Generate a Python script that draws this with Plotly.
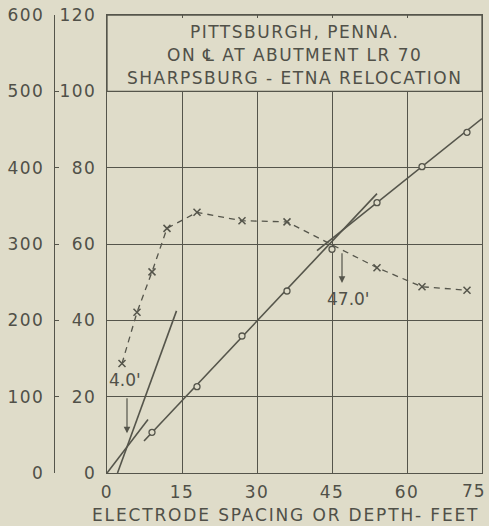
import plotly.graph_objects as go

# Apparent resistivity, read on the inner (0-120) scale
spacing_rho = [3, 6, 9, 12, 18, 27, 36, 54, 63, 72]
resistivity = [28.7, 42.1, 52.7, 64.1, 68.3, 66.1, 65.8, 53.8, 48.8, 47.9]

# Cumulative resistivity, read on the outer (0-600) scale
spacing_cum = [9, 18, 27, 36, 45, 54, 63, 72]
cumulative = [53.3, 113.1, 179.5, 238.4, 293.1, 354.1, 401.3, 446.3]

# Straight-line fits; their crossings mark the layer depths
fit_near_x, fit_near_y = [0, 8.2], [0, 70.0]
fit_steep_x, fit_steep_y = [2.1, 13.9], [0, 212.4]
fit_mid_x, fit_mid_y = [7.4, 54.0], [42.0, 366.0]
fit_deep_x, fit_deep_y = [42.0, 75.0], [291.2, 464.4]

# Layer depths picked from the crossings (feet)
break_depths = [4.0, 47.0]
break_labels = ["4.0'", "47.0'"]

x_ticks = [0, 15, 30, 45, 60, 75]
inner_ticks = [0, 20, 40, 60, 80, 100, 120]
outer_ticks = [0, 100, 200, 300, 400, 500, 600]
title_lines = ["PITTSBURGH, PENNA.", "ON \u2104 AT ABUTMENT LR 70",
               "SHARPSBURG - ETNA RELOCATION"]
x_title = "ELECTRODE SPACING OR DEPTH- FEET"

W, H = 489, 526
ML, MR, MT, MB = 0, 7, 15, 53
PW = W - ML - MR
PH = H - MT - MB
BG = "#dfdcc9"
INK = "#55554b"
TXT = "#505048"
FONT = "DejaVu Sans"
FS = 17


def spaced(s, sp=1.5):
    return f'<span style="letter-spacing:{sp}px">{s}</span>'


fig = go.Figure()

line_style = dict(color=INK, width=1.6)
for fx, fy in [(fit_near_x, fit_near_y), (fit_steep_x, fit_steep_y),
               (fit_mid_x, fit_mid_y), (fit_deep_x, fit_deep_y)]:
    fig.add_trace(go.Scatter(x=fx, y=fy, yaxis="y2", mode="lines",
                             line=line_style, hoverinfo="skip"))

fig.add_trace(go.Scatter(
    x=spacing_rho, y=resistivity, yaxis="y", mode="lines+markers",
    line=dict(color=INK, width=1.3, dash="6px,5px"),
    marker=dict(symbol="x-thin", size=7, line=dict(color=INK, width=1.5)),
))

fig.add_trace(go.Scatter(
    x=spacing_cum, y=cumulative, yaxis="y2", mode="markers",
    marker=dict(symbol="circle", size=6, color=BG, line=dict(color=INK, width=1.3)),
))

# Title block across the top band of the grid
fig.add_shape(type="rect", xref="x", yref="y", x0=0, x1=75, y0=100, y1=120,
              fillcolor=BG, line=dict(color=INK, width=1.3), layer="between")

title_y = [115.5, 109.4, 103.5]
for txt, ty in zip(title_lines, title_y):
    fig.add_annotation(x=37.5, y=ty, xref="x", yref="y", text=spaced(txt),
                       showarrow=False, font=dict(size=FS, color=TXT),
                       xanchor="center", yanchor="middle")

# Depth arrows
fig.add_annotation(x=break_depths[0], y=10.4, ax=break_depths[0], ay=20.0,
                   xref="x", yref="y", axref="x", ayref="y", text="",
                   showarrow=True, arrowhead=2, arrowsize=1.1, arrowwidth=1.2,
                   arrowcolor=INK)
fig.add_annotation(x=3.6, y=24.3, xref="x", yref="y", text=break_labels[0],
                   showarrow=False, font=dict(size=FS, color=TXT))
fig.add_annotation(x=break_depths[1], y=49.8, ax=break_depths[1], ay=58.0,
                   xref="x", yref="y", axref="x", ayref="y", text="",
                   showarrow=True, arrowhead=2, arrowsize=1.1, arrowwidth=1.2,
                   arrowcolor=INK)
fig.add_annotation(x=48.2, y=45.6, xref="x", yref="y", text=break_labels[1],
                   showarrow=False, font=dict(size=FS, color=TXT))

# The last x label sits at the page edge, so it is right-aligned inside it
fig.add_annotation(x=486 / PW, y=(473 - 491) / PH, xref="paper", yref="paper",
                   text=spaced(str(x_ticks[-1]), 1.0), showarrow=False,
                   borderpad=0, borderwidth=0,
                   font=dict(size=FS, color=TXT), xanchor="right", yanchor="middle")

fig.add_annotation(x=285 / PW, y=(473 - 515) / PH, xref="paper", yref="paper",
                   text=spaced(x_title, 1.85), showarrow=False,
                   font=dict(size=FS, color=TXT), xanchor="center", yanchor="middle")

fig.update_layout(
    width=W, height=H,
    margin=dict(l=ML, r=MR, t=MT, b=MB, pad=0, autoexpand=False),
    paper_bgcolor=BG, plot_bgcolor=BG,
    showlegend=False,
    font=dict(family=FONT, size=FS, color=TXT),
    xaxis=dict(domain=[107 / PW, 1], range=[0, 75], tickvals=x_ticks,
               ticktext=[spaced(str(v)) if v != x_ticks[-1] else "" for v in x_ticks],
               showgrid=True, gridcolor=INK, gridwidth=1.2,
               showline=True, linecolor=INK, linewidth=1.3, mirror="ticks",
               ticks="inside", ticklen=3, tickcolor=INK,
               zeroline=False, ticklabelstandoff=3,
               automargin=False, fixedrange=True),
    yaxis=dict(range=[0, 120], tickvals=inner_ticks,
               ticktext=[spaced(str(v)) for v in inner_ticks],
               showgrid=True, gridcolor=INK, gridwidth=1.2,
               showline=True, linecolor=INK, linewidth=1.3, mirror=True,
               ticks="", zeroline=False, ticklabelstandoff=6,
               automargin=False, fixedrange=True),
    yaxis2=dict(range=[0, 600], overlaying="y", anchor="free", side="left",
                position=54 / PW, tickvals=outer_ticks,
                ticktext=[spaced(str(v)) for v in outer_ticks],
                showgrid=False, showline=True, linecolor=INK, linewidth=1.3,
                ticks="inside", ticklen=4, tickcolor=INK, zeroline=False,
                ticklabelstandoff=6, automargin=False, fixedrange=True),
)

fig.write_html("out.html")
